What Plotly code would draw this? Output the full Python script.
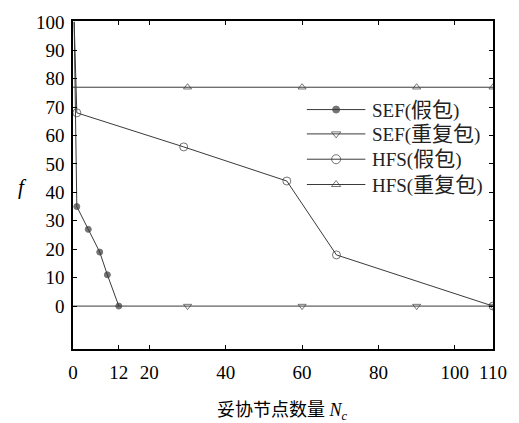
import plotly.graph_objects as go

# Series data (x = number of compromised nodes, y = f)
sef_fake_x = [0.3, 1, 4, 7, 9, 12]
sef_fake_y = [100, 35, 27, 19, 11, 0]

sef_replay_x = [0, 30, 60, 90, 110]
sef_replay_y = [0, 0, 0, 0, 0]

hfs_fake_x = [0.3, 1, 29, 56, 69, 110]
hfs_fake_y = [100, 68, 56, 44, 18, 0]

hfs_replay_x = [0, 30, 60, 90, 110]
hfs_replay_y = [77, 77, 77, 77, 77]

x_ticks = [0, 12, 20, 40, 60, 80, 100, 110]
y_ticks = [0, 10, 20, 30, 40, 50, 60, 70, 80, 90, 100]

legend_methods = ["SEF", "SEF", "HFS", "HFS"]
legend_kinds = ["假包", "重复包", "假包", "重复包"]

LINE = "#3a3a3a"
FONT = "Liberation Serif, Noto Sans CJK SC, serif"

series = [
    (sef_fake_x, sef_fake_y, "circle", 6, LINE),
    (sef_replay_x, sef_replay_y, "triangle-down-open", 7, LINE),
    (hfs_fake_x, hfs_fake_y, "circle-open", 8, LINE),
    (hfs_replay_x, hfs_replay_y, "triangle-up-open", 7, LINE),
]

fig = go.Figure()
for (xs, ys, sym, sz, col), m, k in zip(series, legend_methods, legend_kinds):
    # end points sitting on the left or top edge carry no marker
    sizes = [0 if (y >= 100 or x <= 0.5) else sz for x, y in zip(xs, ys)]
    fig.add_trace(go.Scatter(
        x=xs, y=ys, mode="lines+markers", name=f"{m}({k})", showlegend=False,
        line=dict(color=col, width=1),
        marker=dict(symbol=sym, size=sizes, color=col,
                    line=dict(color=col, width=1)),
    ))

# Legend drawn on a pixel-space helper axis spanning the plot area
row_y = [103, 128, 154, 180]
for (xs, ys, sym, sz, col), m, k, ry in zip(series, legend_methods,
                                             legend_kinds, row_y):
    fig.add_trace(go.Scatter(
        x=[313, 343, 373], y=[ry, ry, ry], xaxis="x2", yaxis="y2",
        mode="lines+markers", showlegend=False, hoverinfo="skip",
        line=dict(color=col, width=1),
        marker=dict(symbol=sym, size=[0, sz + 1, 0], color=col,
                    line=dict(color=col, width=1)),
        cliponaxis=False,
    ))
    fig.add_annotation(
        x=378, y=ry, xref="x2", yref="y2", showarrow=False,
        text=f"{m}(<span style='font-size:21px'>{k}</span>)",
        xanchor="left", yanchor="middle",
        font=dict(family=FONT, size=19, color="#222"),
    )

axis_common = dict(
    showline=True, linewidth=1.6, linecolor="black", mirror="ticks",
    ticks="inside", ticklen=4, tickwidth=1, tickcolor="black",
    showgrid=False, zeroline=False,
    tickfont=dict(family=FONT, size=19, color="black"),
)

fig.update_layout(
    width=519, height=423,
    margin=dict(l=73, r=15, t=12, b=74),
    paper_bgcolor="white", plot_bgcolor="rgba(0,0,0,0)",
    showlegend=False,
    xaxis=dict(range=[0, 110], tickvals=x_ticks, ticklabelstandoff=5,
               **axis_common),
    yaxis=dict(range=[-15.1, 100.3], tickvals=y_ticks, ticklabelstandoff=3,
               **axis_common),
    xaxis2=dict(domain=[0, 1], range=[73, 504], anchor="y2",
                visible=False, fixedrange=True),
    yaxis2=dict(domain=[0, 1], range=[349, 12], anchor="x2",
                visible=False, fixedrange=True),
)

# Axis titles
fig.add_annotation(
    x=0.499, y=-0.19, xref="paper", yref="paper", showarrow=False,
    text="妥协节点数量 <i>N<sub>c</sub></i>",
    font=dict(family=FONT, size=18, color="black"),
    xanchor="center", yanchor="middle",
)
fig.add_annotation(
    x=-0.121, y=0.493, xref="paper", yref="paper", showarrow=False,
    text="<i>f</i>", font=dict(family=FONT, size=21, color="black"),
    xanchor="center", yanchor="middle",
)

fig.write_html("out.html")
